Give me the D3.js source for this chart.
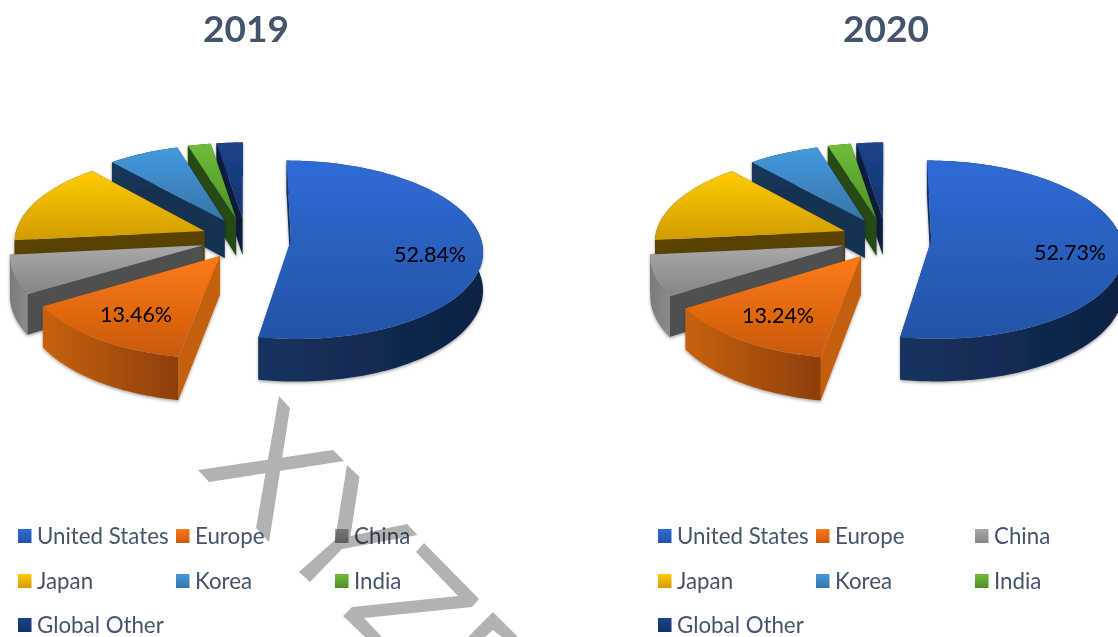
<!DOCTYPE html>
<html>
<head>
<meta charset="utf-8">
<script src="https://cdn.jsdelivr.net/npm/d3@7/dist/d3.min.js"></script>
<style>
html,body{margin:0;padding:0;background:#fff;overflow:hidden}
svg{display:block}
text{font-family:Lato,"Open Sans",sans-serif}
</style>
</head>
<body>
<svg id="c" width="1118" height="637"></svg>
<script>
const categories = ["United States","Europe","China","Japan","Korea","India","Global Other"];
const years = ["2019","2020"];
const values2019 = [52.84,13.46,7.0,15.2,6.8,2.2,2.5];
const values2020 = [52.73,13.24,7.4,15.1,6.8,2.2,2.53];
const labelled = [0,1];
const topColors  = [["#2f6bd6","#2353a6"],["#ff7a18","#c85a0a"],["#a9a9a9","#858585"],["#ffcc00","#d19c00"],["#4599de","#3575a8"],["#6fbd3a","#4f8f26"],["#1c4489","#12326c"]];
const wallColors = [["#17335f","#0d2144"],["#c8610f","#8c3f06"],["#7a7a7a","#8c8c8c"],["#5c4400","#5c4400"],["#17385a","#153250"],["#254a12","#254a12"],["#0a1f44","#0a1f44"]];
const cutColors  = ["#14305c","#c45f10","#505050","#5a4300","#163352","#254a12","#081b3c"];
const watermark = [
 [[279,396],[290,408],[269,542],[256,528]],
 [[198,470],[333,450],[344,461],[209,482]],
 [[347,465],[359.5,477],[350.5,536],[407,524],[417.5,535],[342,549],[310,582],[299,572],[335,540]],
 [[424,543],[479,599],[472,607],[364,618],[382,637],[365,637],[343,616],[352,607],[458,596],[416,552]],
 [[493,612],[518,637],[502,637],[493,630],[485,637],[468,637]]
];
const svg = d3.select("#c");
const defs = svg.append("defs");
const f = defs.append("filter").attr("id","sh").attr("x","-10%").attr("y","-10%").attr("width","120%").attr("height","120%");
f.append("feDropShadow").attr("dx",0).attr("dy",1.5).attr("stdDeviation",1.4).attr("flood-color","#000").attr("flood-opacity",.35);

function grad(id,c,horizontal){
  const g = defs.append("linearGradient").attr("id",id).attr("x1",0).attr("y1",0).attr("x2",horizontal?1:0).attr("y2",horizontal?0:1);
  g.append("stop").attr("offset",0).attr("stop-color",c[0]);
  g.append("stop").attr("offset",1).attr("stop-color",c[1]);
}
const line = d3.line();
const pie = d3.pie().sort(null).startAngle(0).endAngle(2*Math.PI);

const R=190, EX=45, TILT=.462, D=1800, H=38;
function drawPie(values, key, Cx, Cy, labelPos){
  const P=(X,Z,h=0)=>{const s=D/(D-Z);return [Cx+X*s, Cy+Z*TILT*s+h*s];};
  const arcs = pie(values);
  const g = svg.append("g");
  arcs.slice().reverse().forEach(a=>{
    const i=a.index, mid=(a.startAngle+a.endAngle)/2;
    const ox=EX*Math.sin(mid), oz=-EX*Math.cos(mid);
    const n=Math.max(4,Math.ceil((a.endAngle-a.startAngle)*40));
    const angs=d3.range(n+1).map(k=>a.startAngle+(a.endAngle-a.startAngle)*k/n);
    const rim=(h)=>angs.map(t=>P(ox+R*Math.sin(t),oz-R*Math.cos(t),h));
    const apex=h=>P(ox,oz,h);
    const top=rim(0), low=rim(H);
    grad(`t${key}${i}`,topColors[i],false);
    grad(`w${key}${i}`,wallColors[i],true);
    const s=g.append("g").attr("filter","url(#sh)");
    [0,n].forEach(e=>{
      s.append("path").attr("d",line([apex(0),top[e],low[e],apex(H)])+"Z").attr("fill",cutColors[i]);
    });
    s.append("path").attr("d",line(top.concat(low.slice().reverse()))+"Z").attr("fill",`url(#w${key}${i})`);
    s.append("path").attr("d",line([apex(0)].concat(top))+"Z").attr("fill",`url(#t${key}${i})`);
  });
  labelled.forEach((i,k)=>{
    svg.append("text").attr("x",labelPos[k][0]).attr("y",labelPos[k][1]).attr("text-anchor","middle")
      .attr("font-size",21.5).attr("fill","#000").text(values[i].toFixed(2)+"%");
  });
}
drawPie(values2019,"a",246,238.5,[[430,262],[136,322]]);
drawPie(values2020,"b",886.3,238.5,[[1070,260],[778,323]]);

[[246,0],[886,1]].forEach(([x,i])=>{
  svg.append("text").attr("x",x).attr("y",42).attr("text-anchor","middle").attr("font-size",37).attr("font-weight",700).attr("fill","#44546a").text(years[i]);
});
const colX=[18,176,335], rowY=[536,581,625];
[0,640].forEach((dx,j)=>{
  categories.forEach((c,i)=>{
    const col=i%3,row=Math.floor(i/3);
    svg.append("rect").attr("x",colX[col]+dx).attr("y",rowY[row]-7).attr("width",13.5).attr("height",14).attr("fill",`url(#t${j?"b":"a"}${i})`);
    svg.append("text").attr("x",colX[col]+dx+19).attr("y",rowY[row]+7.5).attr("font-size",22.3).attr("fill","#44546a").text(c);
  });
});
svg.append("g").style("mix-blend-mode","multiply").selectAll("path").data(watermark).join("path")
  .attr("d",d=>line(d)+"Z").attr("fill","#b2b2b2");
</script>
</body>
</html>
